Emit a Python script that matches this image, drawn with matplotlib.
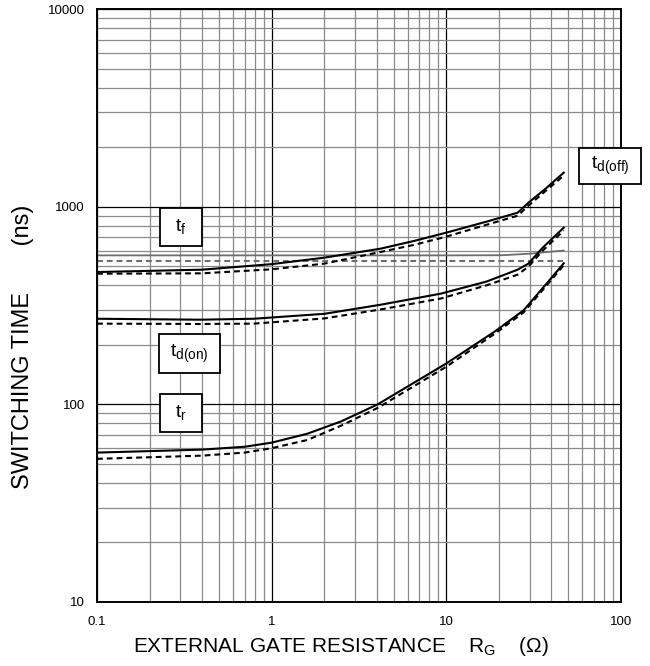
import numpy as np
import matplotlib
matplotlib.use("Agg")
import matplotlib.pyplot as plt
from matplotlib.patches import Rectangle
from matplotlib.ticker import LogLocator, FixedLocator, NullFormatter

plt.rcParams["font.family"] = ["Liberation Sans", "DejaVu Sans"]
plt.rcParams["mathtext.default"] = "regular"

# td(off): solid / dashed
r_doff = [0.1, 0.4, 1, 2, 4.2, 6.5, 10, 17, 25.6, 29.5, 37, 47]
td_off_solid = [467, 480, 512, 552, 613, 670, 739, 840, 932, 1047, 1233, 1486]
td_off_dashed = [458, 460, 482, 515, 590, 640, 705, 810, 900, 1012, 1200, 1435]

# tf
r_tf = [0.1, 1, 10, 21, 30, 47]
tf_solid = [567, 567, 567, 568, 578, 600]
tf_dashed = [529, 529, 529, 529, 529, 529]

# td(on)
r_don = [0.1, 0.39, 0.79, 2, 4.2, 9.3, 17, 25.6, 29.5, 35.6, 47]
td_on_solid = [271, 268, 271, 287, 319, 363, 418, 480, 515, 620, 783]
td_on_dashed = [256, 255, 256, 272, 302, 343, 400, 453, 497, 599, 757]

# tr
r_tr = [0.1, 0.4, 0.7, 1, 1.6, 2.5, 4.05, 10, 19, 27.7, 38, 47]
tr_solid = [57, 59, 61, 64, 71, 82, 100, 161, 234, 299, 414, 517]
tr_dashed = [53, 55, 57, 60, 66, 78, 96, 155, 228, 292, 405, 505]

x_ticks = [0.1, 1, 10, 100]
x_labels = ["0.1", "1", "10", "100"]
y_ticks = [10, 100, 1000, 10000]
y_labels = ["10", "100", "1000", "10000"]

W, H = 650, 666
fig = plt.figure(figsize=(W / 100, H / 100), dpi=100)
ax = fig.add_axes([97 / W, 1 - 602 / H, (621 - 97) / W, (602 - 9) / H])
ax.set_xscale("log")
ax.set_yscale("log")
ax.set_xlim(0.1, 100)
ax.set_ylim(10, 10000)

ax.xaxis.set_major_locator(FixedLocator(x_ticks))
ax.yaxis.set_major_locator(FixedLocator(y_ticks))
ax.set_xticklabels(x_labels)
ax.set_yticklabels(y_labels)
ax.xaxis.set_minor_locator(LogLocator(base=10, subs=np.arange(2, 10)))
ax.yaxis.set_minor_locator(LogLocator(base=10, subs=np.arange(2, 10)))
ax.xaxis.set_minor_formatter(NullFormatter())
ax.yaxis.set_minor_formatter(NullFormatter())
ax.tick_params(which="both", length=0, labelsize=9.5)
ax.tick_params(axis="x", pad=10)
ax.tick_params(axis="y", pad=8.6)

ax.grid(which="major", color="black", linewidth=0.9)
ax.grid(which="minor", color="#8a8a8a", linewidth=0.9)
for s in ax.spines.values():
    s.set_linewidth(1.4)

dash = (0, (2.8, 1.9))
ax.plot(r_tf, tf_solid, color="#6e6e6e", lw=1.3)
ax.plot(r_tf, tf_dashed, color="#6e6e6e", lw=1.5, linestyle=dash)
ax.plot(r_doff, td_off_solid, color="black", lw=1.5)
ax.plot(r_doff, td_off_dashed, color="black", lw=1.5, linestyle=dash)
ax.plot(r_don, td_on_solid, color="black", lw=1.5)
ax.plot(r_don, td_on_dashed, color="black", lw=1.5, linestyle=dash)
ax.plot(r_tr, tr_solid, color="black", lw=1.5)
ax.plot(r_tr, tr_dashed, color="black", lw=1.5, linestyle=dash)


def label_box(x0, y0, x1, y1, txt):
    # pixel box (top-left origin) -> figure coords
    rect = Rectangle((x0 / W, 1 - y1 / H), (x1 - x0) / W, (y1 - y0) / H,
                     transform=fig.transFigure, facecolor="white",
                     edgecolor="black", linewidth=1.3, zorder=5)
    fig.add_artist(rect)
    fig.text((x0 + x1) / 2 / W, 1 - (y0 + y1) / 2 / H, txt, fontsize=14,
             ha="center", va="center", zorder=6)


label_box(160, 208, 202, 246, r"t$_{f}$")
label_box(159, 334, 220, 373, r"t$_{d(on)}$")
label_box(160, 394, 202, 432, r"t$_{r}$")
label_box(579, 148, 641, 184, r"t$_{d(off)}$")

fig.text(341 / W, 1 - 647 / H, r"EXTERNAL GATE RESISTANCE    R$_{G}$    ($\Omega$)",
         fontsize=15, ha="center", va="center")
fig.text(23 / W, 1 - 347 / H, "SWITCHING TIME       (ns)", fontsize=17,
         rotation=90, ha="center", va="center")

fig.savefig("out.png", dpi=100)
